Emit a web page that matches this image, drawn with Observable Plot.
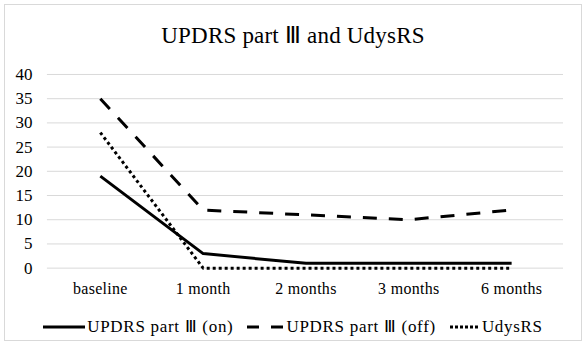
<!DOCTYPE html>
<html><head><meta charset="utf-8">
<script src="https://cdn.jsdelivr.net/npm/d3@7"></script>
<script src="https://cdn.jsdelivr.net/npm/@observablehq/plot@0.6"></script>
<style>
body{margin:0;background:#fff;}
#frame{position:absolute;left:4px;top:4px;width:576px;height:335px;border:1px solid #d9d9d9;background:#fff;font-family:'Liberation Serif', serif;}
#title{position:absolute;left:0;top:17px;width:100%;text-align:center;font-size:23px;color:#000;letter-spacing:0.2px;}
#chart{position:absolute;left:0;top:55px;}
#legend{position:absolute;left:0;top:311px;width:100%;display:flex;justify-content:center;align-items:center;font-size:17px;letter-spacing:0.7px;color:#000;white-space:nowrap;}
#legend span{display:inline-flex;align-items:center;margin:0 7px;}
#legend svg{margin-right:2px;}
</style></head><body>
<div id="frame">
<div id="title">UPDRS part Ⅲ and UdysRS</div>
<div id="chart"></div>
<div id="legend"></div>
</div>
<script>
const categories = ["baseline","1 month","2 months","3 months","6 months"];
const seriesNames = ["UPDRS part Ⅲ (on)","UPDRS part Ⅲ (off)","UdysRS"];
const updrsOn = [19,3,1,1,1];
const updrsOff = [35,12,11,10,12];
const udysrs = [28,0,0,0,0];
const yTicks = [0,5,10,15,20,25,30,35,40];
const dashes = [null,"14,12","3,3"];
const legendDashes = [null,"12,12","3,2"];
const legendWidths = [42,37,30];

const rows = [];
[updrsOn,updrsOff,udysrs].forEach((vals,si)=>vals.forEach((v,i)=>rows.push({series:seriesNames[si],cat:categories[i],value:v})));

const plot = Plot.plot({
  width:577,height:250,
  marginLeft:42,marginRight:18,marginTop:14,marginBottom:42,
  style:{fontFamily:"'Liberation Serif', serif",fontSize:"16px",color:"#000",background:"transparent"},
  x:{type:"point",domain:categories,padding:0.5,label:null,tickSize:0,tickPadding:15},
  y:{domain:[0,40],ticks:yTicks,label:null,tickSize:0,tickPadding:15},
  marks:[
    Plot.gridY(yTicks,{stroke:"#d9d9d9",strokeOpacity:1,strokeWidth:1}),
    ...seriesNames.map((s,si)=>Plot.line(rows.filter(r=>r.series===s),{x:"cat",y:"value",stroke:"#000",strokeWidth:3,strokeDasharray:dashes[si],strokeLinecap:"butt"}))
  ]
});
plot.querySelectorAll("g[aria-label='x-axis tick label'] text").forEach(t=>{t.style.letterSpacing="0.3px";});
plot.querySelectorAll("g[aria-label='y-axis tick label'] text").forEach(t=>{t.style.fontSize="17px";});
document.getElementById("chart").appendChild(plot);

const lg = document.getElementById("legend");
seriesNames.forEach((s,si)=>{
  const sp = document.createElement("span");
  const w = legendWidths[si];
  sp.innerHTML = `<svg width="${w}" height="8"><line x1="0" x2="${w}" y1="4" y2="4" stroke="#000" stroke-width="3" ${legendDashes[si]?`stroke-dasharray="${legendDashes[si]}"`:""}/></svg>${s}`;
  lg.appendChild(sp);
});
</script>
</body></html>
